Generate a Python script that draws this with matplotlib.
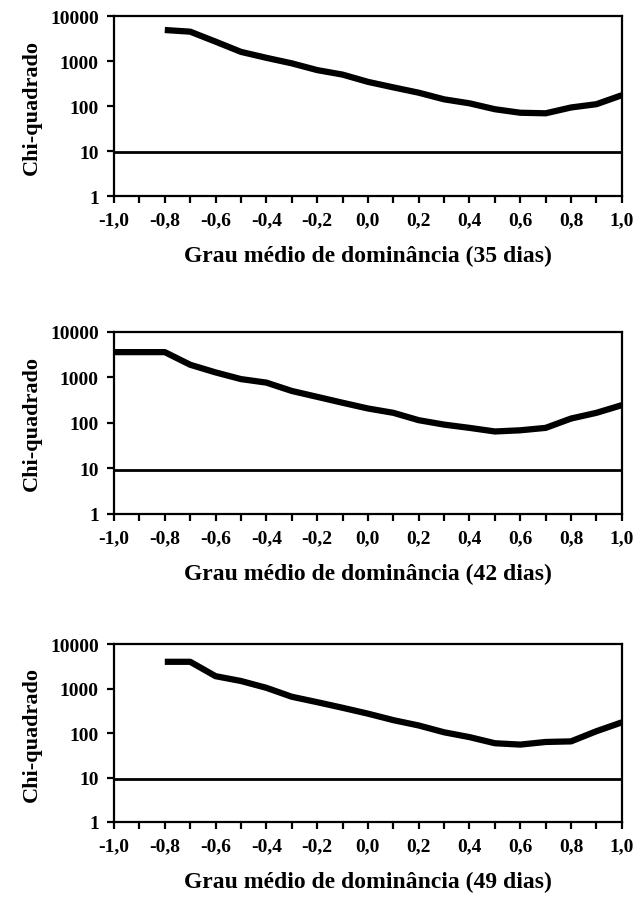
import numpy as np
import matplotlib
matplotlib.use('Agg')
import matplotlib.pyplot as plt
from matplotlib.ticker import FixedLocator, FuncFormatter, NullFormatter

plt.rcParams['font.family'] = ['Liberation Serif', 'DejaVu Serif']
plt.rcParams['font.weight'] = 'bold'

# grau medio de dominancia
x35 = [-0.8, -0.7, -0.6, -0.5, -0.4, -0.3, -0.2, -0.1, 0.0, 0.1, 0.2, 0.3, 0.4, 0.5, 0.6, 0.7, 0.8, 0.9, 1.0]
chi35 = [4900, 4500, 2700, 1600, 1180, 890, 630, 500, 345, 260, 198, 141, 115, 85, 71, 69, 93, 110, 174]

x42 = [-1.0, -0.9, -0.8, -0.7, -0.6, -0.5, -0.4, -0.3, -0.2, -0.1, 0.0, 0.1, 0.2, 0.3, 0.4, 0.5, 0.6, 0.7, 0.8, 0.9, 1.0]
chi42 = [3600, 3600, 3600, 1900, 1290, 920, 770, 505, 375, 278, 208, 167, 115, 92, 78, 65, 69, 78, 125, 167, 246]

x49 = [-0.8, -0.7, -0.6, -0.5, -0.4, -0.3, -0.2, -0.1, 0.0, 0.1, 0.2, 0.3, 0.4, 0.5, 0.6, 0.7, 0.8, 0.9, 1.0]
chi49 = [4000, 4000, 1900, 1480, 1040, 655, 495, 370, 273, 195, 148, 104, 81, 59, 55, 63, 65, 110, 174]

chi_crit = 9.49
titles = ['Grau médio de dominância (35 dias)',
          'Grau médio de dominância (42 dias)',
          'Grau médio de dominância (49 dias)']


def fmt_x(v, p):
    s = '%.1f' % v
    if s == '-0.0':
        s = '0.0'
    return s.replace('.', ',')


fig = plt.figure(figsize=(6.42, 9.03), dpi=100)
boxes = [[0.1776, 0.7818, 0.791, 0.1993],
         [0.1776, 0.4297, 0.791, 0.2016],
         [0.1776, 0.0886, 0.791, 0.1970]]
series = [(x35, chi35), (x42, chi42), (x49, chi49)]

for box, (xs, ys), title in zip(boxes, series, titles):
    ax = fig.add_axes(box)
    ax.plot(xs, ys, color='black', lw=4.5, solid_capstyle='butt', solid_joinstyle='round')
    ax.axhline(chi_crit, color='black', lw=2)
    ax.set_yscale('log')
    ax.set_xlim(-1.0, 1.0)
    ax.set_ylim(1, 10000)
    ax.yaxis.set_major_locator(FixedLocator([1, 10, 100, 1000, 10000]))
    ax.yaxis.set_minor_locator(FixedLocator([]))
    ax.yaxis.set_major_formatter(FuncFormatter(lambda v, p: '%d' % v))
    ax.xaxis.set_major_locator(FixedLocator(np.round(np.arange(-1.0, 1.01, 0.2), 1)))
    ax.xaxis.set_minor_locator(FixedLocator(np.round(np.arange(-0.9, 1.0, 0.2), 1)))
    ax.xaxis.set_major_formatter(FuncFormatter(fmt_x))
    ax.xaxis.set_minor_formatter(NullFormatter())
    for s in ax.spines.values():
        s.set_linewidth(1.6)
    ax.tick_params(axis='both', which='both', direction='out', length=5, width=1.6,
                   labelsize=14, pad=6)
    ax.set_ylabel('Chi-quadrado', fontsize=16, fontweight='bold', labelpad=6)
    ax.set_xlabel(title, fontsize=17, fontweight='bold', labelpad=12)

fig.savefig('out.png', dpi=100)
